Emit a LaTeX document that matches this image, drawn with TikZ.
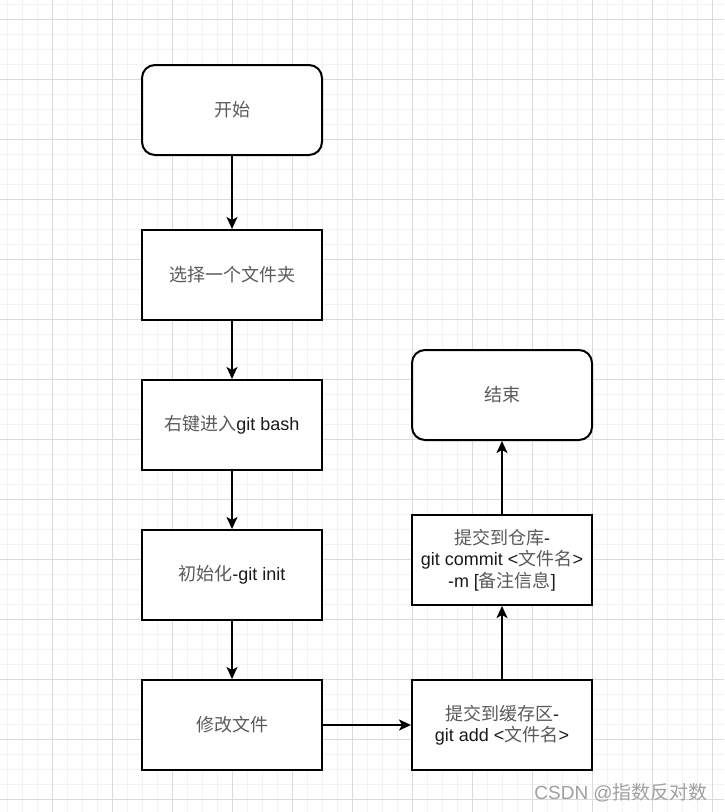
\documentclass[tikz,border=0pt]{standalone}
\usepackage{fontspec}
\setmainfont{Liberation Sans}
\newfontfamily\cjk{Noto Sans CJK SC}
\usetikzlibrary{arrows.meta}
\definecolor{minorgrid}{HTML}{F2F2F2}
\definecolor{majorgrid}{HTML}{DADADA}
\definecolor{cjkgray}{HTML}{5A5A5A}
\definecolor{txt}{HTML}{1A1A1A}
\definecolor{wm}{HTML}{A0A0A0}
\newcommand\zh[1]{{\cjk\color{cjkgray}#1}}
\tikzset{
  box/.style={draw=black, line width=2pt, fill=white, minimum width=180pt, minimum height=90pt, inner sep=0pt, align=center, font=\fontsize{18}{21.5}\selectfont, text=txt},
  rbox/.style={box, rounded corners=13pt},
  conn/.style={draw=black, line width=1.8pt, -{Stealth[length=12pt,width=11pt,inset=3pt]}},
}
\begin{document}
\begin{tikzpicture}[x=1pt,y=-1pt]
\useasboundingbox (0,0) rectangle (724,812);
\fill[white] (0,0) rectangle (724,812);
% grid
\foreach \x in {7,22,...,724} \draw[minorgrid, line width=1pt] (\x,0) -- (\x,812);
\foreach \y in {4,19,...,812} \draw[minorgrid, line width=1pt] (0,\y) -- (724,\y);
\foreach \x in {52,112,...,724} \draw[majorgrid, line width=1pt] (\x,0) -- (\x,812);
\foreach \y in {19,79,...,812} \draw[majorgrid, line width=1pt] (0,\y) -- (724,\y);
% nodes
\node[rbox] (start) at (232,110) {\zh{开始}};
\node[box] (sel) at (232,275) {\zh{选择一个文件夹}};
\node[box] (bash) at (232,425) {\zh{右键进入}git bash};
\node[box] (init) at (232,575) {\zh{初始化}-git init};
\node[box] (mod) at (232,725) {\zh{修改文件}};
\node[box] (add) at (502,725) {\zh{提交到缓存区}-\\git add <\zh{文件名}>};
\node[box] (commit) at (502,560) {\zh{提交到仓库}-\\git commit <\zh{文件名}>\\-m [\zh{备注信息}]};
\node[rbox] (end) at (502,395) {\zh{结束}};
% connectors
\draw[conn] (start) -- (sel);
\draw[conn] (sel) -- (bash);
\draw[conn] (bash) -- (init);
\draw[conn] (init) -- (mod);
\draw[conn] (mod) -- (add);
\draw[conn] (add) -- (commit);
\draw[conn] (commit) -- (end);
% watermark
\node[anchor=east, text=wm, font=\fontsize{19}{22}\selectfont, inner sep=0pt] (wmark) at (708,793) {CSDN @{\cjk 指数反对数}};
\end{tikzpicture}
\end{document}
